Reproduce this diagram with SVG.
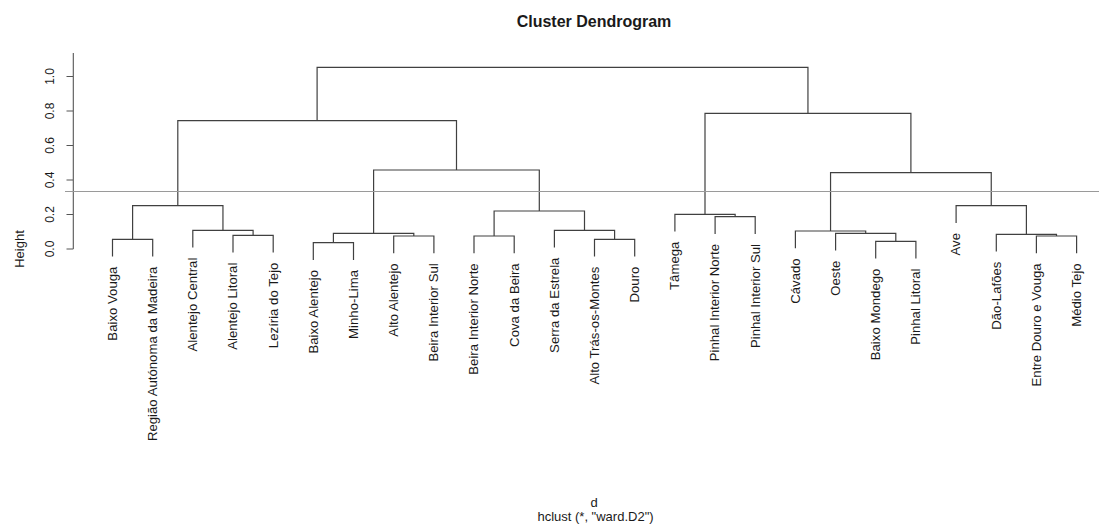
<svg xmlns="http://www.w3.org/2000/svg" width="1099" height="529" viewBox="0 0 1099 529">
<style>
.ln{stroke:#404040;stroke-width:1.2;fill:none}
.ax{stroke:#555;stroke-width:1.1;fill:none}
.cut{stroke:#9a9a9a;stroke-width:1.2}
text{font-family:"Liberation Sans",Arial,sans-serif;fill:#1a1a1a}
.lab{font-size:13.2px;text-anchor:end}
.tk{font-size:12px;text-anchor:middle}
.t{font-size:16px;font-weight:bold;text-anchor:middle}
.sub{font-size:13px;text-anchor:middle}
</style>
<rect width="1099" height="529" fill="#fff"/>
<text class="t" x="594" y="26.6">Cluster Dendrogram</text>
<g id="axis">
<path class="ax" d="M73.3,53 V249 M66.5,249 H73.3 M66.5,214.5 H73.3 M66.5,180 H73.3 M66.5,145.5 H73.3 M66.5,111 H73.3 M66.5,76.5 H73.3"/>
<text class="tk" transform="translate(53.5,249) rotate(-90)">0.0</text>
<text class="tk" transform="translate(53.5,214.5) rotate(-90)">0.2</text>
<text class="tk" transform="translate(53.5,180) rotate(-90)">0.4</text>
<text class="tk" transform="translate(53.5,145.5) rotate(-90)">0.6</text>
<text class="tk" transform="translate(53.5,111) rotate(-90)">0.8</text>
<text class="tk" transform="translate(53.5,76.5) rotate(-90)">1.0</text>
<text class="sub" transform="translate(24,249) rotate(-90)">Height</text>
</g>
<g id="connectors">
<path class="ln" d="M112.5,256.6 V239.3 H152.7 V256.6"/>
<path class="ln" d="M233,252.6 V235.3 H273.2 V252.6"/>
<path class="ln" d="M192.8,247.6 V230.3 H253.1 V235.3"/>
<path class="ln" d="M132.6,239.3 V205.7 H222.95 V230.3"/>
<path class="ln" d="M313.3,260 V242.7 H353.5 V260"/>
<path class="ln" d="M393.7,253.3 V236 H433.9 V253.3"/>
<path class="ln" d="M333.4,242.7 V233.3 H413.8 V236"/>
<path class="ln" d="M474,253.3 V236 H514.2 V253.3"/>
<path class="ln" d="M594.5,256.6 V239.3 H634.7 V256.6"/>
<path class="ln" d="M554.4,247.6 V230.3 H614.6 V239.3"/>
<path class="ln" d="M494.1,236 V211 H584.5 V230.3"/>
<path class="ln" d="M373.6,233.3 V170 H539.3 V211"/>
<path class="ln" d="M177.8,205.7 V120.7 H456.5 V170"/>
<path class="ln" d="M715.1,234 V216.7 H755.2 V234"/>
<path class="ln" d="M674.9,231.6 V214.3 H735.15 V216.7"/>
<path class="ln" d="M875.7,258.6 V241.3 H915.9 V258.6"/>
<path class="ln" d="M835.6,250.6 V233.3 H895.8 V241.3"/>
<path class="ln" d="M795.4,248.3 V231 H865.7 V233.3"/>
<path class="ln" d="M1036.4,253.3 V236 H1076.6 V253.3"/>
<path class="ln" d="M996.3,251.6 V234.3 H1056.5 V236"/>
<path class="ln" d="M956.1,223 V205.7 H1026.4 V234.3"/>
<path class="ln" d="M830.55,231 V172.7 H991.25 V205.7"/>
<path class="ln" d="M705,214.3 V113.3 H910.9 V172.7"/>
<path class="ln" d="M317.1,120.7 V67.3 H807.95 V113.3"/>
<line class="cut" x1="65" y1="191.5" x2="1099" y2="191.5"/>
</g>
<g id="n0"><text class="lab" transform="translate(116.8,266.6) rotate(-90)">Baixo Vouga</text></g>
<g id="n1"><text class="lab" transform="translate(157,266.6) rotate(-90)">Região Autónoma da Madeira</text></g>
<g id="n2"><text class="lab" transform="translate(197.1,257.6) rotate(-90)">Alentejo Central</text></g>
<g id="n3"><text class="lab" transform="translate(237.3,262.6) rotate(-90)">Alentejo Litoral</text></g>
<g id="n4"><text class="lab" transform="translate(277.5,262.6) rotate(-90)">Lezíria do Tejo</text></g>
<g id="n5"><text class="lab" transform="translate(317.6,270) rotate(-90)">Baixo Alentejo</text></g>
<g id="n6"><text class="lab" transform="translate(357.8,270) rotate(-90)">Minho-Lima</text></g>
<g id="n7"><text class="lab" transform="translate(398,263.3) rotate(-90)">Alto Alentejo</text></g>
<g id="n8"><text class="lab" transform="translate(438.2,263.3) rotate(-90)">Beira Interior Sul</text></g>
<g id="n9"><text class="lab" transform="translate(478.3,263.3) rotate(-90)">Beira Interior Norte</text></g>
<g id="n10"><text class="lab" transform="translate(518.5,263.3) rotate(-90)">Cova da Beira</text></g>
<g id="n11"><text class="lab" transform="translate(558.7,257.6) rotate(-90)">Serra da Estrela</text></g>
<g id="n12"><text class="lab" transform="translate(598.8,266.6) rotate(-90)">Alto Trás-os-Montes</text></g>
<g id="n13"><text class="lab" transform="translate(639,266.6) rotate(-90)">Douro</text></g>
<g id="n14"><text class="lab" transform="translate(679.2,241.6) rotate(-90)">Tâmega</text></g>
<g id="n15"><text class="lab" transform="translate(719.4,244) rotate(-90)">Pinhal Interior Norte</text></g>
<g id="n16"><text class="lab" transform="translate(759.5,244) rotate(-90)">Pinhal Interior Sul</text></g>
<g id="n17"><text class="lab" transform="translate(799.7,258.3) rotate(-90)">Cávado</text></g>
<g id="n18"><text class="lab" transform="translate(839.9,260.6) rotate(-90)">Oeste</text></g>
<g id="n19"><text class="lab" transform="translate(880,268.6) rotate(-90)">Baixo Mondego</text></g>
<g id="n20"><text class="lab" transform="translate(920.2,268.6) rotate(-90)">Pinhal Litoral</text></g>
<g id="n21"><text class="lab" transform="translate(960.4,233) rotate(-90)">Ave</text></g>
<g id="n22"><text class="lab" transform="translate(1000.6,261.6) rotate(-90)">Dão-Lafões</text></g>
<g id="n23"><text class="lab" transform="translate(1040.7,263.3) rotate(-90)">Entre Douro e Vouga</text></g>
<g id="n24"><text class="lab" transform="translate(1080.9,263.3) rotate(-90)">Médio Tejo</text></g>
<text class="sub" x="594" y="506.5">d</text>
<text class="sub" x="595.5" y="520.5">hclust (*, "ward.D2")</text>
</svg>
